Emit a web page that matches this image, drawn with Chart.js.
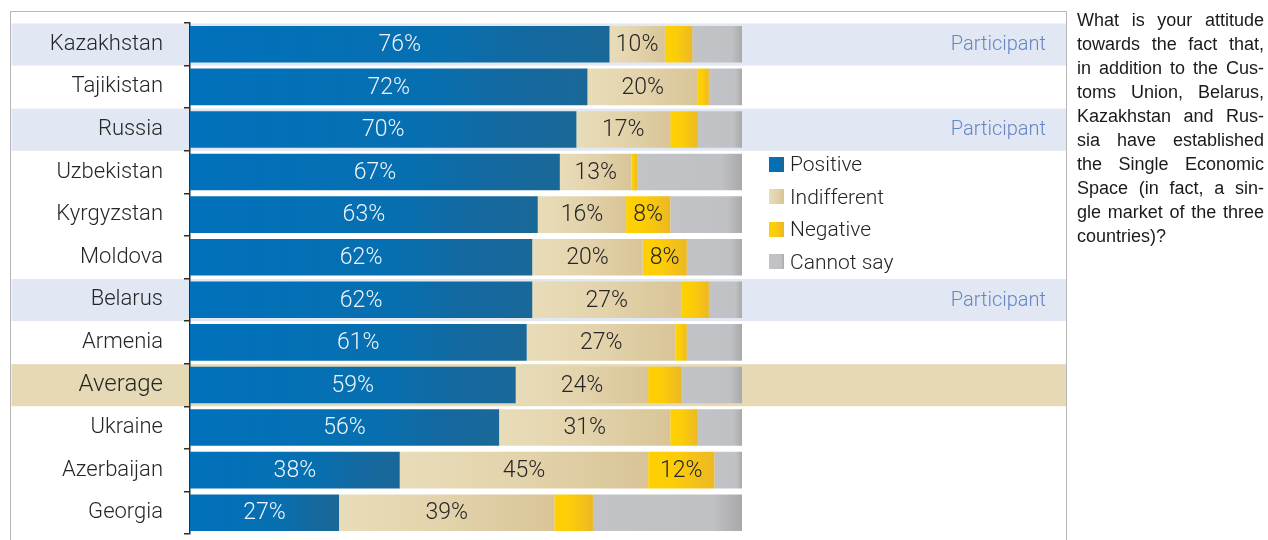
<!DOCTYPE html>
<html>
<head>
<meta charset="utf-8">
<script src="https://cdn.jsdelivr.net/npm/chart.js@4.4.1/dist/chart.umd.min.js"></script>
<style>
  body { margin: 0; width: 1268px; height: 540px; background: #fff; position: relative; overflow: hidden; }
  #frame { position: absolute; left: 10px; top: 11px; width: 1055px; height: 600px; border: 1.5px solid #b7b7b7; }
  #chart { position: absolute; left: 0; top: 0; }
  #legend { position: absolute; left: 769px; top: 150px; font-family: Roboto, sans-serif; font-weight: 300; font-size: 21px; color: #242424; }
  #legend .item { height: 28px; margin-bottom: 4.5px; display: flex; align-items: center; }
  #legend .sw { width: 15px; height: 15px; margin-right: 6px; }
  #question { position: absolute; left: 1077px; top: 8px; width: 187px; font-family: "Liberation Sans", Arial, sans-serif; font-size: 18px; line-height: 24px; color: #1a1a1a; }
  #question div { text-align: justify; text-align-last: justify; white-space: nowrap; }
  #question div:last-child { text-align-last: left; }
</style>
</head>
<body>
<div id="frame"></div>
<canvas id="chart" width="1268" height="540"></canvas>
<div id="legend"></div>
<div id="question">
  <div>What is your attitude</div>
  <div>towards the fact that,</div>
  <div>in addition to the Cus-</div>
  <div>toms Union, Belarus,</div>
  <div>Kazakhstan and Rus-</div>
  <div>sia have established</div>
  <div>the Single Economic</div>
  <div>Space (in fact, a sin-</div>
  <div>gle market of the three</div>
  <div>countries)?</div>
</div>
<script>
const countries = ['Kazakhstan', 'Tajikistan', 'Russia', 'Uzbekistan', 'Kyrgyzstan', 'Moldova',
  'Belarus', 'Armenia', 'Average', 'Ukraine', 'Azerbaijan', 'Georgia'];
const positive    = [76, 72, 70, 67, 63, 62, 62, 61, 59, 56, 38, 27];
const indifferent = [10, 20, 17, 13, 16, 20, 27, 27, 24, 31, 45, 39];
const negative    = [5, 2, 5, 1, 8, 8, 5, 2, 6, 5, 12, 7];
const cannotSay   = [9, 6, 8, 19, 13, 10, 6, 10, 11, 8, 5, 27];
const participants = ['Kazakhstan', 'Russia', 'Belarus'];

// colour ramps, left to right inside each bar segment
const ramps = {
  Positive:      [[0, '#0071bb'], [0.6, '#076fb0'], [0.8, '#1369a0'], [1, '#1a6898']],
  Indifferent:   [[0, '#e8dcb9'], [0.5, '#e3d3ab'], [1, '#d8c497']],
  Negative:      [[0, '#ffd100'], [0.4, '#fccd08'], [1, '#ecb824']],
  'Cannot say':  [[0, '#c2c3c7'], [0.8, '#c0c1c4'], [1, '#a9a9aa']]
};
const labelColor = { Positive: '#eef4fa', Indifferent: '#262626', Negative: '#262626' };

const series = [
  { label: 'Positive', data: positive },
  { label: 'Indifferent', data: indifferent },
  { label: 'Negative', data: negative },
  { label: 'Cannot say', data: cannotSay }
];

function barGradient(ctx) {
  const chart = ctx.chart;
  const stops = ramps[ctx.dataset.label];
  if (ctx.type !== 'data' || !chart.chartArea || !chart.scales.x) return stops[0][1];
  let start = 0;
  for (let d = 0; d < ctx.datasetIndex; d++) start += chart.data.datasets[d].data[ctx.dataIndex];
  const end = start + ctx.raw;
  const x = chart.scales.x;
  const g = chart.ctx.createLinearGradient(x.getPixelForValue(start), 0, x.getPixelForValue(end), 0);
  stops.forEach(s => g.addColorStop(s[0], s[1]));
  return g;
}

// highlighted rows and the "Participant" notes
const rowBands = {
  id: 'rowBands',
  beforeDraw(chart) {
    const { ctx, chartArea, scales } = chart;
    const h = (chartArea.bottom - chartArea.top) / countries.length;
    ctx.save();
    countries.forEach((c, i) => {
      let fill = null;
      if (participants.includes(c)) fill = '#e1e7f3';
      if (c === 'Average') fill = '#e6d9b5';
      if (!fill) return;
      const y = scales.y.getPixelForValue(i);
      ctx.fillStyle = fill;
      ctx.fillRect(11.5, y - h / 2 + 0.5, 1054.5, h - 0.5);
    });
    ctx.restore();
  },
  afterDraw(chart) {
    const { ctx, scales } = chart;
    ctx.save();
    ctx.font = '300 20px Roboto';
    ctx.fillStyle = '#6685c6';
    ctx.textAlign = 'right';
    ctx.textBaseline = 'middle';
    countries.forEach((c, i) => {
      if (participants.includes(c)) ctx.fillText('Participant', 1046, scales.y.getPixelForValue(i) + 1);
    });
    ctx.restore();
  }
};

// percentage labels inside the segments
const segmentLabels = {
  id: 'segmentLabels',
  afterDatasetsDraw(chart) {
    const { ctx } = chart;
    ctx.save();
    ctx.font = '300 23px Roboto';
    ctx.textAlign = 'center';
    ctx.textBaseline = 'middle';
    chart.data.datasets.forEach((ds, di) => {
      if (!labelColor[ds.label]) return;
      chart.getDatasetMeta(di).data.forEach((bar, i) => {
        const v = ds.data[i];
        if (ds.label === 'Negative' && v < 8) return;
        ctx.fillStyle = labelColor[ds.label];
        ctx.fillText(v + '%', (bar.x + bar.base) / 2, bar.y + 1);
      });
    });
    ctx.restore();
  }
};

const chart = new Chart(document.getElementById('chart'), {
  type: 'bar',
  data: {
    labels: countries,
    datasets: series.map(s => ({
      label: s.label,
      data: s.data,
      backgroundColor: barGradient,
      borderWidth: 0,
      barPercentage: 0.86,
      categoryPercentage: 1
    }))
  },
  options: {
    indexAxis: 'y',
    responsive: false,
    animation: false,
    layout: { padding: { top: 23, bottom: 6, left: 0, right: 526 } },
    plugins: { legend: { display: false }, tooltip: { enabled: false } },
    scales: {
      x: { stacked: true, min: 0, max: 100, display: false },
      y: {
        stacked: true,
        afterFit(scale) {
          scale.width = 190;
          scale.paddingTop = 0;
          scale.paddingBottom = 0;
        },
        border: { display: true, color: '#2e2e2e', width: 1.5 },
        grid: { drawOnChartArea: false, drawTicks: true, tickLength: 6, color: '#2e2e2e', lineWidth: 1.5, offset: true },
        ticks: {
          padding: 21,
          color: '#262626',
          font: ctx => ({ family: 'Roboto', weight: '300', size: ctx.tick && ctx.tick.label === 'Average' ? 24 : 22 })
        }
      }
    }
  },
  plugins: [rowBands, segmentLabels]
});

// legend built from the datasets
const legend = document.getElementById('legend');
chart.data.datasets.forEach(ds => {
  const stops = ramps[ds.label].map(s => s[1] + ' ' + (s[0] * 100) + '%').join(', ');
  const item = document.createElement('div');
  item.className = 'item';
  item.innerHTML = '<span class="sw" style="background: linear-gradient(to right, ' + stops + ')"></span>' + ds.label;
  legend.appendChild(item);
});
</script>
</body>
</html>
